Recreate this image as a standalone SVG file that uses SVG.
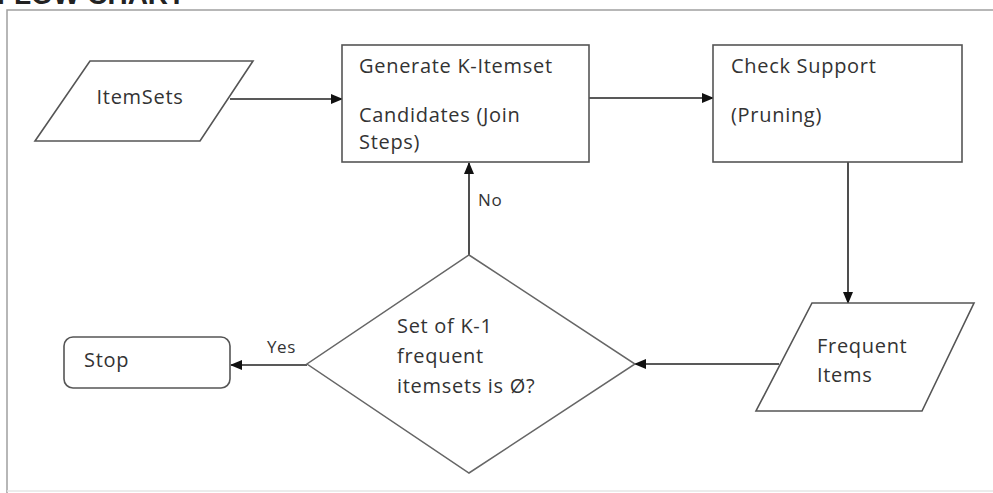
<svg xmlns="http://www.w3.org/2000/svg" width="993" height="493" viewBox="0 0 993 493">
  <defs>
    <marker id="arr" markerUnits="userSpaceOnUse" markerWidth="12" markerHeight="10" refX="11" refY="5" orient="auto">
      <path d="M0,0 L12,5 L0,10 Z" fill="#111"/>
    </marker>
  </defs>
  <style>
    .shape { fill: #fff; stroke: #555; stroke-width: 1.6; }
    .dia { fill: #fff; stroke: #666; stroke-width: 1.5; }
    .conn { fill: none; stroke: #222; stroke-width: 1.6; marker-end: url(#arr); }
    .t { font-family: "Open Sans", "DejaVu Sans", sans-serif; font-size: 20px; fill: #333; letter-spacing: 0.7px; }
    .lbl { font-family: "Open Sans", "DejaVu Sans", sans-serif; font-size: 17px; fill: #333; letter-spacing: 0.6px; }
    .frame { fill: none; stroke: #a0a0a0; stroke-width: 1.5; }
  </style>
  <rect width="993" height="493" fill="#fff"/>
  <text x="-3" y="4" font-family="Liberation Sans, Arial, sans-serif" font-size="28" font-weight="bold" fill="#222">FLOW CHART</text>
  <path class="frame" d="M993,10 L7,10 L7,493"/>
  <line x1="7" y1="491" x2="993" y2="491" stroke="#e6e6e6" stroke-width="1.5"/>

  <g id="connectors">
    <line class="conn" x1="230" y1="99" x2="342" y2="99"/>
    <line class="conn" x1="589" y1="98" x2="713" y2="98"/>
    <line class="conn" x1="848" y1="162" x2="848" y2="303"/>
    <line class="conn" x1="779" y1="364" x2="635" y2="364"/>
    <line class="conn" x1="469" y1="255" x2="469" y2="163"/>
    <line class="conn" x1="307" y1="365" x2="231" y2="365"/>
    <text class="lbl" x="478" y="206">No</text>
    <text class="lbl" x="267" y="353">Yes</text>
  </g>

  <g id="itemsets">
    <polygon class="shape" points="90,61 253,61 200,141 35,141"/>
    <text class="t" x="140" y="104" text-anchor="middle">ItemSets</text>
  </g>

  <g id="generate">
    <rect class="shape" x="342" y="45" width="247" height="117"/>
    <text class="t" x="359" y="73">Generate K-Itemset</text>
    <text class="t" x="359" y="122">Candidates (Join</text>
    <text class="t" x="359" y="149">Steps)</text>
  </g>

  <g id="check">
    <rect class="shape" x="713" y="45" width="249" height="117"/>
    <text class="t" x="731" y="73">Check Support</text>
    <text class="t" x="731" y="122">(Pruning)</text>
  </g>

  <g id="frequent">
    <polygon class="shape" points="812,303 974,303 922,411 756,411"/>
    <text class="t" x="817" y="353">Frequent</text>
    <text class="t" x="817" y="382">Items</text>
  </g>

  <g id="decision">
    <polygon class="dia" points="469,255 635,364 469,473 307,364"/>
    <text class="t" x="397" y="333">Set of K-1</text>
    <text class="t" x="397" y="363">frequent</text>
    <text class="t" x="397" y="393">itemsets is Ø?</text>
  </g>

  <g id="stop">
    <rect class="shape" x="64" y="337" width="166" height="51" rx="9"/>
    <text class="t" x="84" y="367">Stop</text>
  </g>
</svg>
